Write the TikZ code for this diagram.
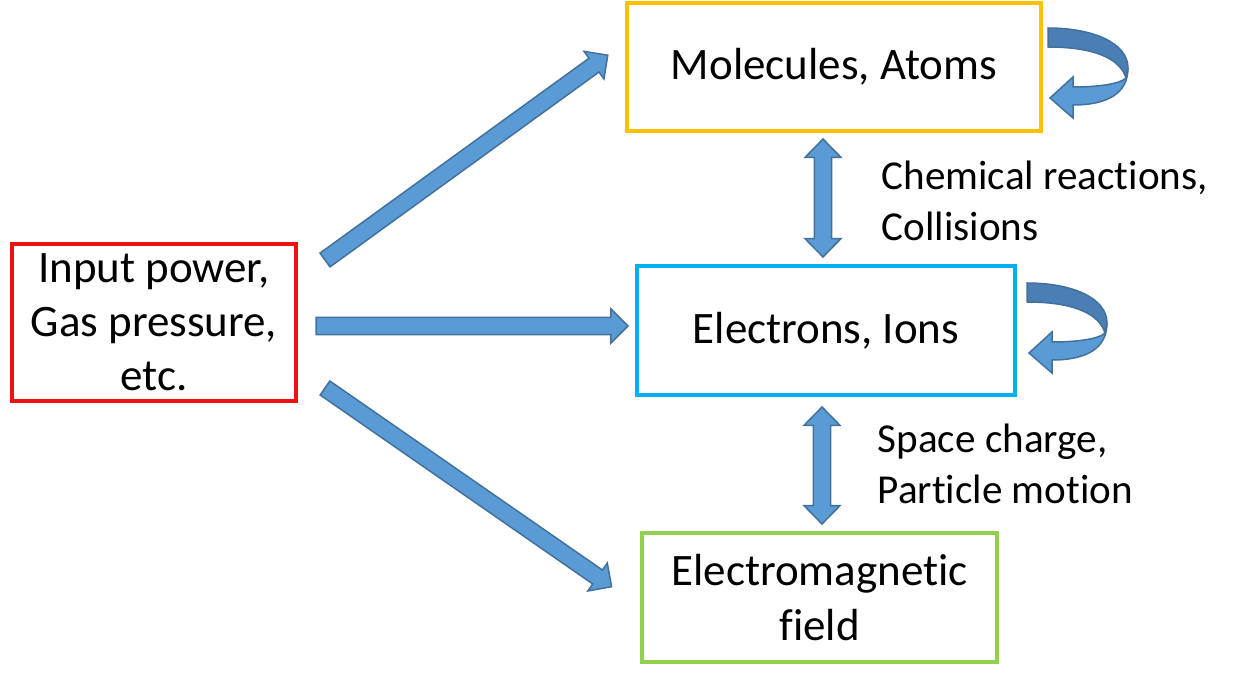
\documentclass[tikz,border=0pt]{standalone}
\usepackage{fontspec}
\setmainfont{Carlito}[Ligatures=NoCommon]
\usetikzlibrary{positioning, calc}

\definecolor{arrowfill}{HTML}{5B9BD5}
\definecolor{arrowline}{HTML}{41719C}
\definecolor{arrowdark}{HTML}{4A7EB5}
\definecolor{inred}{HTML}{EE1111}
\definecolor{molgold}{HTML}{FFC000}
\definecolor{ioncyan}{HTML}{00B0F0}
\definecolor{emgreen}{HTML}{92D050}

\tikzset{
    box/.style={
        rectangle,
        draw,
        line width=0.4mm,
        fill=white,
        inner sep=0pt,
        align=center,
        font=\fontsize{12.8pt}{15.4pt}\selectfont
    },
    note/.style={
        inner sep=0pt,
        align=left,
        anchor=west,
        font=\fontsize{11.7pt}{14.6pt}\selectfont
    },
    fatarrow/.style={
        fill=arrowfill,
        draw=arrowline,
        line width=0.15mm,
        line join=miter
    },
    selfloop/.pic={
        \path[fatarrow, fill=arrowdark] (0,0) .. controls (45,0) and (80,15) .. (80,40)
            -- (78,50) .. controls (72,30) and (45,19) .. (0,19) -- cycle;
        \path[fatarrow] (80,40) .. controls (80,65) and (60,77) .. (25,77)
            -- (25,90) -- (2,70) -- (25,49) -- (25,59)
            .. controls (50,59) and (72,56) .. (78,50) -- cycle;
    }
}

% block arrow from #1 to #2
\newcommand{\blockarrow}[2]{%
    \path[fatarrow] let \p1=(#1), \p2=(#2),
        \n1={atan2(\y2-\y1,\x2-\x1)}, \n2={veclen(\x2-\x1,\y2-\y1)},
        \n3={\n2-4.84pt} in
        [shift={(\p1)}, rotate=\n1]
        (0pt,-2.42pt) -- (\n3,-2.42pt) -- (\n3,-4.84pt) -- (\n2,0pt)
        -- (\n3,4.84pt) -- (\n3,2.42pt) -- (0pt,2.42pt) -- cycle;
}
% block arrow with a head at both ends
\newcommand{\dblockarrow}[2]{%
    \path[fatarrow] let \p1=(#1), \p2=(#2),
        \n1={atan2(\y2-\y1,\x2-\x1)}, \n2={veclen(\x2-\x1,\y2-\y1)},
        \n3={\n2-5.2pt} in
        [shift={(\p1)}, rotate=\n1]
        (5.2pt,-2.42pt) -- (\n3,-2.42pt) -- (\n3,-5.1pt) -- (\n2,0pt)
        -- (\n3,5.1pt) -- (\n3,2.42pt) -- (5.2pt,2.42pt) -- (5.2pt,5.1pt)
        -- (0pt,0pt) -- (5.2pt,-5.1pt) -- cycle;
}

\begin{document}
\begin{tikzpicture}[x=0.1mm, y=-0.1mm]

    \useasboundingbox (0,0) rectangle (1239,681);

    % Boxes
    \node[box, draw=inred, minimum width=28.4mm, minimum height=15.7mm] (input) at (154,322.5)
        {Input power,\\Gas pressure,\\etc.};
    \node[box, draw=molgold, minimum width=41.4mm, minimum height=12.8mm] (mol) at (834,67)
        {Molecules, Atoms};
    \node[box, draw=ioncyan, minimum width=37.8mm, minimum height=12.9mm] (ion) at (826,330.5)
        {Electrons, Ions};
    \node[box, draw=emgreen, minimum width=35.5mm, minimum height=12.9mm] (field) at (819.5,597.5)
        {Electromagnetic\\field};

    % Arrow ends
    \coordinate (upstart) at (325,260);
    \coordinate (upend) at (608,55);
    \coordinate (midstart) at (316,326);
    \coordinate (midend) at (628,326);
    \coordinate (lowstart) at (325,388);
    \coordinate (lowend) at (612,587);
    \coordinate (chemtop) at (823,139);
    \coordinate (chembot) at (823,257);
    \coordinate (fieldtop) at (822,407);
    \coordinate (fieldbot) at (822,524);

    % Main arrows
    \blockarrow{upstart}{upend}
    \blockarrow{midstart}{midend}
    \blockarrow{lowstart}{lowend}

    % Exchange arrows
    \dblockarrow{chembot}{chemtop}
    \dblockarrow{fieldbot}{fieldtop}
    \node[note] (chemlbl) at (881,201) {Chemical reactions,\\Collisions};
    \node[note] (spacelbl) at (877,464) {Space charge,\\Particle motion};

    % Self loops
    \pic at (1048,28) {selfloop};
    \pic at (1027,283) {selfloop};

\end{tikzpicture}
\end{document}
